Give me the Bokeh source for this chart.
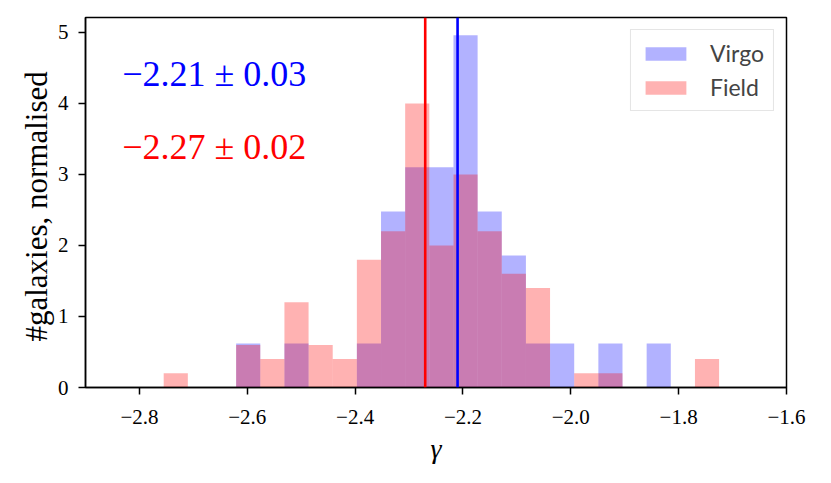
from bokeh.plotting import figure
from bokeh.models import Range1d, Label, Legend, LegendItem, Span, FixedTicker, ColumnDataSource
from bokeh.embed import file_html
from bokeh.resources import INLINE
import numpy as np

# ---- data ----
bin_lo = -2.755
bin_hi = -1.725
n_bins = 23
virgo = [0, 0, 0, 0.62, 0, 0.62, 0, 0, 0.62, 2.48, 3.10, 3.10, 4.96, 2.48, 1.86,
         0.62, 0.62, 0, 0.62, 0, 0.62, 0, 0]
field = [0.2, 0, 0, 0.6, 0.4, 1.2, 0.6, 0.4, 1.8, 2.2, 4.0, 2.0, 3.0, 2.2, 1.6,
         1.4, 0, 0.2, 0.2, 0, 0, 0, 0.4]
virgo_mean, virgo_err = -2.21, 0.03
field_mean, field_err = -2.27, 0.02
x_ticks = [-2.8, -2.6, -2.4, -2.2, -2.0, -1.8, -1.6]
x_tick_labels = ["\u22122.8", "\u22122.6", "\u22122.4", "\u22122.2", "\u22122.0", "\u22121.8", "\u22121.6"]
y_ticks = [0, 1, 2, 3, 4, 5]
y_tick_labels = ["0", "1", "2", "3", "4", "5"]

edges = np.linspace(bin_lo, bin_hi, n_bins + 1)
SERIF = "Liberation Serif"
SANS = "Lato"

p = figure(width=815, height=467, output_backend="svg", toolbar_location=None,
           x_range=Range1d(-2.9, -1.6), y_range=Range1d(0, 5.21),
           min_border_left=85, min_border_right=29, min_border_top=17, min_border_bottom=80)
p.xgrid.visible = False
p.ygrid.visible = False
p.background_fill_color = "white"
p.border_fill_color = "white"
p.outline_line_color = "black"
p.outline_line_width = 1.5

src_v = ColumnDataSource(dict(left=edges[:-1], right=edges[1:], top=virgo))
src_f = ColumnDataSource(dict(left=edges[:-1], right=edges[1:], top=field))
rv = p.quad(left="left", right="right", top="top", bottom=0, source=src_v,
            fill_color="blue", fill_alpha=0.3, line_color=None)
rf = p.quad(left="left", right="right", top="top", bottom=0, source=src_f,
            fill_color="red", fill_alpha=0.3, line_color=None)

p.add_layout(Span(location=field_mean, dimension="height", line_color="red", line_width=2.6))
p.add_layout(Span(location=virgo_mean, dimension="height", line_color="blue", line_width=2.6))

p.add_layout(Label(x=-2.832, y=4.41, text="\u2212%.2f \u00b1 %.2f" % (abs(virgo_mean), virgo_err),
                   text_color="blue", text_font=SERIF, text_font_size="36px",
                   text_baseline="alphabetic", text_align="left"))
p.add_layout(Label(x=-2.832, y=3.38, text="\u2212%.2f \u00b1 %.2f" % (abs(field_mean), field_err),
                   text_color="red", text_font=SERIF, text_font_size="36px",
                   text_baseline="alphabetic", text_align="left"))

for ax in (p.xaxis[0], p.yaxis[0]):
    ax.axis_line_width = 1.5
    ax.axis_line_color = "black"
    ax.major_tick_line_width = 1.5
    ax.major_tick_line_color = "black"
    ax.major_tick_in = 0
    ax.major_tick_out = 7
    ax.minor_tick_line_color = None
    ax.major_label_text_font = SERIF
    ax.major_label_text_font_size = "21px"
    ax.major_label_text_color = "black"
    ax.axis_label_text_font = SERIF
    ax.axis_label_text_font_style = "normal"
    ax.axis_label_text_color = "black"

p.xaxis.ticker = FixedTicker(ticks=x_ticks)
p.xaxis.major_label_overrides = dict(zip(x_ticks, x_tick_labels))
p.yaxis.ticker = FixedTicker(ticks=y_ticks)
p.yaxis.major_label_overrides = dict(zip(y_ticks, y_tick_labels))
p.xaxis.major_label_standoff = 15
p.yaxis.major_label_standoff = 10
p.xaxis.axis_label = "\u03b3"
p.xaxis.axis_label_text_font_style = "italic"
p.xaxis.axis_label_text_font_size = "28px"
p.xaxis.axis_label_standoff = 6
p.yaxis.axis_label = "#galaxies,  normalised"
p.yaxis.axis_label_text_font_size = "31px"
p.yaxis.axis_label_standoff = 1

legend = Legend(items=[LegendItem(label="Virgo", renderers=[rv]),
                       LegendItem(label="Field", renderers=[rf])],
                location="top_right", margin=12, padding=9, spacing=6,
                glyph_width=51, glyph_height=17, label_height=20, label_standoff=19,
                label_text_font=SANS, label_text_font_size="23px",
                border_line_color="#cccccc", border_line_width=1.5,
                background_fill_alpha=0.8)
p.add_layout(legend)

open("out.html", "w").write(file_html(p, INLINE))
